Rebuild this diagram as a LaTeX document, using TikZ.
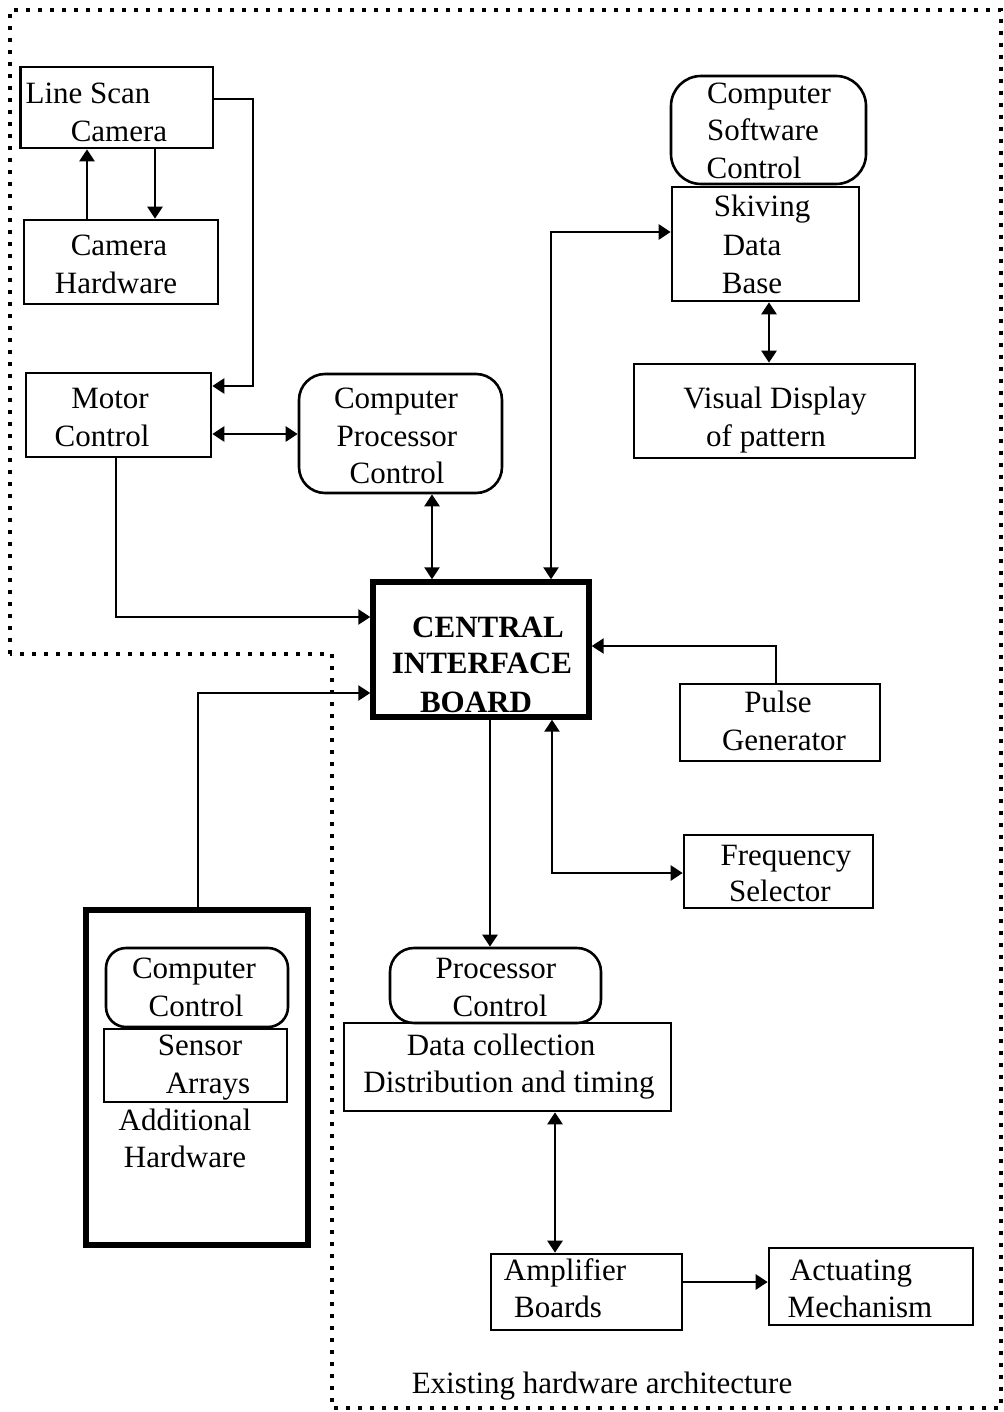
\documentclass[tikz,border=0pt]{standalone}
\usepackage{fontspec}
\setmainfont{Liberation Serif}
\usetikzlibrary{arrows.meta}
\tikzset{
  box/.style={draw, line width=1.3pt, inner sep=0pt, rectangle},
  rbox/.style={box, rounded corners=13pt},
  heavy/.style={draw, line width=2.7pt, inner sep=0pt, rectangle},
  lbl/.style={anchor=base, inner sep=0pt, font=\fontsize{15.5}{18.75}\selectfont},
  link/.style={line width=1.25pt},
  tip/.tip={Triangle[length=6pt,width=7.5pt]},
  arr/.style={link, -tip},
  darr/.style={link, tip-tip},
  boundary/.style={line width=1.6pt, dash pattern=on 2pt off 4pt},
}
\begin{document}
\begin{tikzpicture}[x=0.5pt, y=-0.5pt]
\useasboundingbox (0,0) rectangle (1004,1412);

% region of the existing hardware
\draw[boundary] (10,654) -- (10,10) -- (1001,10) -- (1001,1408)
  -- (332,1408) -- (332,654) -- cycle;

% ---- boxes ----
\node[box,  minimum width=96.25pt, minimum height=40.5pt] (lsc) at (116.75,107.5) {};
\node[box,  minimum width=97pt,    minimum height=42pt]   (hw)  at (121,262) {};
\node[box,  minimum width=92.5pt,  minimum height=42pt]   (mot) at (118.5,415) {};
\node[rbox, minimum width=101.5pt, minimum height=59.5pt] (cpc) at (400.5,433.5) {};
\node[rbox, minimum width=97.5pt,  minimum height=54pt, rounded corners=15pt] (csc) at (768.5,130) {};
\node[box,  minimum width=93.5pt,  minimum height=57pt]   (sdb) at (765.5,244) {};
\node[box,  minimum width=140.5pt, minimum height=47pt]   (vis) at (774.5,411) {};
\node[heavy,minimum width=108pt,   minimum height=67.5pt] (cib) at (481,649.5) {};
\node[box,  minimum width=100pt,   minimum height=38.5pt] (pul) at (780,722.5) {};
\node[box,  minimum width=94.5pt,  minimum height=36.5pt] (frq) at (778.5,871.5) {};
\node[rbox, minimum width=105.5pt, minimum height=37.5pt, rounded corners=12pt] (pro) at (495.5,985.5) {};
\node[box,  minimum width=163.5pt, minimum height=44pt]   (dat) at (507.5,1067) {};
\node[box,  minimum width=95.5pt,  minimum height=38pt]   (amp) at (586.5,1292) {};
\node[box,  minimum width=102pt,   minimum height=38.5pt] (act) at (871,1286.5) {};
\node[heavy,minimum width=111pt,   minimum height=167.5pt] (add) at (197,1077.5) {};
\node[rbox, minimum width=91pt,    minimum height=39.5pt, rounded corners=10pt] (ccl) at (197,987.5) {};
\node[box,  minimum width=91.5pt,  minimum height=36.5pt] (sen) at (195.5,1065.5) {};

% ---- texts ----
\node[lbl] (l-lsc1) at (88,104)  {Line Scan};
\node[lbl] (l-lsc2) at (119,142) {Camera};
\node[lbl] (l-hw1)  at (119,256) {Camera};
\node[lbl] (l-hw2)  at (116,293) {Hardware};
\node[lbl] (l-mot1) at (110,408) {Motor};
\node[lbl] (l-mot2) at (102,446) {Control};
\node[lbl] (l-cpc1) at (396,408) {Computer};
\node[lbl] (l-cpc2) at (397,446) {Processor};
\node[lbl] (l-cpc3) at (397,483) {Control};
\node[lbl] (l-csc1) at (769,104) {Computer};
\node[lbl] (l-csc2) at (763,141) {Software};
\node[lbl] (l-csc3) at (754,179) {Control};
\node[lbl] (l-sdb1) at (762,217) {Skiving};
\node[lbl] (l-sdb2) at (752,256) {Data};
\node[lbl] (l-sdb3) at (752,293) {Base};
\node[lbl] (l-vis1) at (775,408) {Visual Display};
\node[lbl] (l-vis2) at (766,446) {of pattern};
\node[lbl, font=\fontsize{15.5}{18.75}\selectfont\bfseries] (l-cib1) at (488,637) {CENTRAL};
\node[lbl, font=\fontsize{15.5}{18.75}\selectfont\bfseries] (l-cib2) at (482,673) {INTERFACE};
\node[lbl, font=\fontsize{15.5}{18.75}\selectfont\bfseries] (l-cib3) at (476,712) {BOARD};
\node[lbl] (l-pul1) at (778,712) {Pulse};
\node[lbl] (l-pul2) at (784,750) {Generator};
\node[lbl] (l-frq1) at (786,865) {Frequency};
\node[lbl] (l-frq2) at (780,901) {Selector};
\node[lbl] (l-pro1) at (496,978) {Processor};
\node[lbl] (l-pro2) at (500,1016) {Control};
\node[lbl] (l-dat1) at (501,1055) {Data collection};
\node[lbl] (l-dat2) at (509,1092) {Distribution and timing};
\node[lbl] (l-amp1) at (565,1280) {Amplifier};
\node[lbl] (l-amp2) at (558,1317) {Boards};
\node[lbl] (l-act1) at (851,1280) {Actuating};
\node[lbl] (l-act2) at (860,1317) {Mechanism};
\node[lbl] (l-ccl1) at (194,978) {Computer};
\node[lbl] (l-ccl2) at (196,1016) {Control};
\node[lbl] (l-sen1) at (200,1055) {Sensor};
\node[lbl] (l-sen2) at (208,1093) {Arrays};
\node[lbl] (l-add1) at (185,1130) {Additional};
\node[lbl] (l-add2) at (185,1167) {Hardware};
\node[lbl] (l-cap)  at (602,1393) {Existing hardware architecture};

% ---- bend points and connector lanes ----
\coordinate (up)   at (87,0);
\coordinate (down) at (155,0);
\coordinate (camR) at (253,99);
\coordinate (camB) at (253,386);
\coordinate (mc)   at (0,434);
\coordinate (pc)   at (432,0);
\coordinate (motB) at (116,617);
\coordinate (addB) at (198,693);
\coordinate (skB)  at (551,232);
\coordinate (vd)   at (769,0);
\coordinate (plB)  at (776,646);
\coordinate (fqB)  at (552,873);
\coordinate (pr)   at (490,0);
\coordinate (am)   at (555,0);
\coordinate (ac)   at (0,1282);

% ---- connectors ----
\draw[arr] (hw.north -| up) -- (lsc.south -| up);
\draw[arr] (lsc.south -| down) -- (hw.north -| down);
\draw[arr] (lsc.east |- camR) -- (camR) -- (camB) -- (mot.east |- camB);
\draw[darr] (mot.east |- mc) -- (cpc.west |- mc);
\draw[darr] (cpc.south -| pc) -- (cib.north -| pc);
\draw[arr] (mot.south -| motB) -- (motB) -- (cib.west |- motB);
\draw[arr] (add.north -| addB) -- (addB) -- (cib.west |- addB);
\draw[darr] (cib.north -| skB) -- (skB) -- (sdb.west |- skB);
\draw[darr] (sdb.south -| vd) -- (vis.north -| vd);
\draw[arr] (pul.north -| plB) -- (plB) -- (cib.east |- plB);
\draw[darr] (cib.south -| fqB) -- (fqB) -- (frq.west |- fqB);
\draw[arr] (cib.south -| pr) -- (pro.north -| pr);
\draw[darr] (dat.south -| am) -- (amp.north -| am);
\draw[arr] (amp.east |- ac) -- (act.west |- ac);
\end{tikzpicture}
\end{document}
